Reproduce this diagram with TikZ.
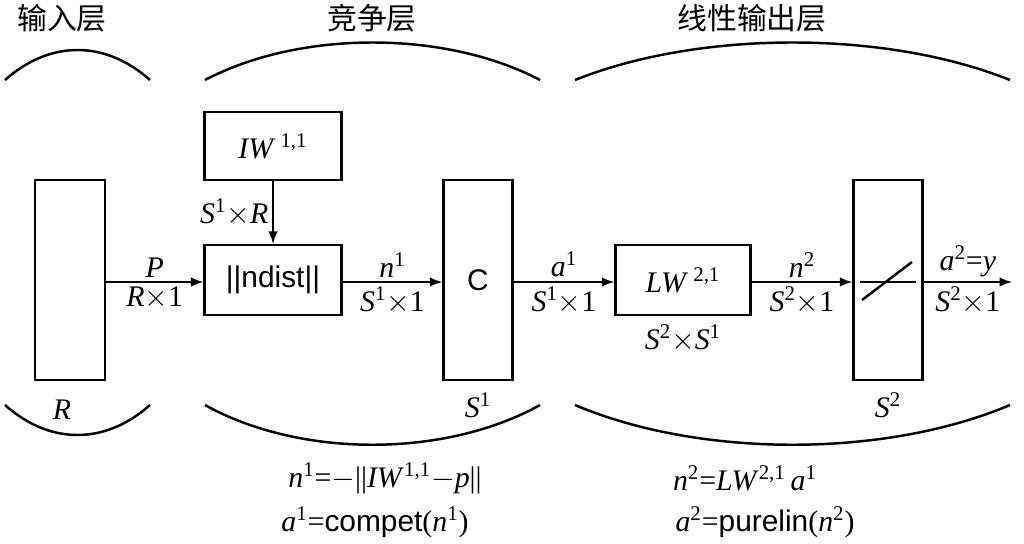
\documentclass[tikz,border=0pt]{standalone}
\usepackage{fontspec}
\setmainfont{Liberation Serif}
\newfontfamily\sansf{Liberation Sans}
\newfontfamily\cjk{Noto Sans CJK SC}
\usetikzlibrary{positioning}
\newcommand\vi[1]{\textit{#1}}
\newcommand\sps[1]{\textsuperscript{#1}}
\tikzset{
	blk/.style={draw,line width=1.4pt,inner sep=0pt},
	lbl/.style={inner sep=2pt,font=\fontsize{17}{19}\selectfont},
	ttl/.style={font=\cjk\fontsize{17}{19}\selectfont},
	flow/.style={line width=1.4pt,-latex}
}
\begin{document}
\begin{tikzpicture}[x=0.02cm,y=-0.02cm,line width=1.4pt]
	\useasboundingbox (0,0) rectangle (1024,544);
	% titles
	\node [ttl] (t1) at (62,18) {输入层};
	\node [ttl] (t2) at (372,18) {竞争层};
	\node [ttl] (t3) at (752,18) {线性输出层};
	% arcs
	\draw (5,80) .. controls (50,40) and (105,40) .. (150,80);
	\draw (205,80) .. controls (300,30) and (445,30) .. (540,80);
	\draw (575,80) .. controls (700,30) and (885,30) .. (1010,80);
	\draw (5,405) .. controls (50,445) and (105,445) .. (150,405);
	\draw (205,405) .. controls (300,458) and (445,458) .. (540,405);
	\draw (575,405) .. controls (700,458) and (885,458) .. (1010,405);
	% boxes
	\node [blk,minimum width=1.4cm,minimum height=4cm] (in) at (70,280) {};
	\node [blk,minimum width=2.74cm,minimum height=1.36cm,lbl] (iw) at (273,146) {\vi{IW}\,\sps{1,1}};
	\node [blk,minimum width=2.74cm,minimum height=1.4cm,lbl] (nd) at (273,280) {\sansf||ndist||};
	\node [blk,minimum width=1.38cm,minimum height=4cm,lbl] (c) at (478,280) {\sansf C};
	\node [blk,minimum width=2.7cm,minimum height=1.4cm,lbl] (lw) at (683,280) {\vi{LW}\,\sps{2,1}};
	\node [blk,minimum width=1.38cm,minimum height=4cm] (out) at (888,280) {};
	\draw (862,300) -- (912,262);
	\draw (860,282) -- (916,282);
	\coordinate (end) at (1012,282);
	% arrows
	\draw [flow] (in.east |- 0,282) -- (nd.west |- 0,282)
		node [lbl,midway,above] {\vi{P}} node [lbl,midway,below] {\vi{R}$\times$1};
	\draw [flow] (iw) -- (nd) node [lbl,midway,left] {\vi{S}\sps{1}$\times$\vi{R}};
	\draw [flow] (nd.east |- 0,282) -- (c.west |- 0,282)
		node [lbl,midway,above] {\vi{n}\sps{1}} node [lbl,midway,below] {\vi{S}\sps{1}$\times$1};
	\draw [flow] (c.east |- 0,282) -- (lw.west |- 0,282)
		node [lbl,midway,above] {\vi{a}\sps{1}} node [lbl,midway,below] {\vi{S}\sps{1}$\times$1};
	\draw [flow] (lw.east |- 0,282) -- (out.west |- 0,282)
		node [lbl,midway,above] {\vi{n}\sps{2}} node [lbl,midway,below] {\vi{S}\sps{2}$\times$1};
	\draw [flow] (out.east |- 0,282) -- (end)
		node [lbl,midway,above] {\vi{a}\sps{2}=\vi{y}} node [lbl,midway,below] {\vi{S}\sps{2}$\times$1};
	% dimensions
	\node [lbl] (r) at (62,410) {\vi{R}};
	\node [lbl] (s1) at (478,405) {\vi{S}\sps{1}};
	\node [lbl] (s2) at (888,405) {\vi{S}\sps{2}};
	\node [lbl,below=2pt of lw] (s21) {\vi{S}\sps{2}$\times$\vi{S}\sps{1}};
	% equations
	\node [lbl] (e1) at (385,478) {\vi{n}\sps{1}=$-$||\vi{IW}\sps{1,1}$-$\vi{p}||};
	\node [lbl] (e2) at (375,522) {\vi{a}\sps{1}={\sansf compet}(\vi{n}\sps{1})};
	\node [lbl] (e3) at (745,478) {\vi{n}\sps{2}=\vi{LW}\sps{2,1}\,\vi{a}\sps{1}};
	\node [lbl] (e4) at (765,522) {\vi{a}\sps{2}={\sansf purelin}(\vi{n}\sps{2})};
\end{tikzpicture}
\end{document}
